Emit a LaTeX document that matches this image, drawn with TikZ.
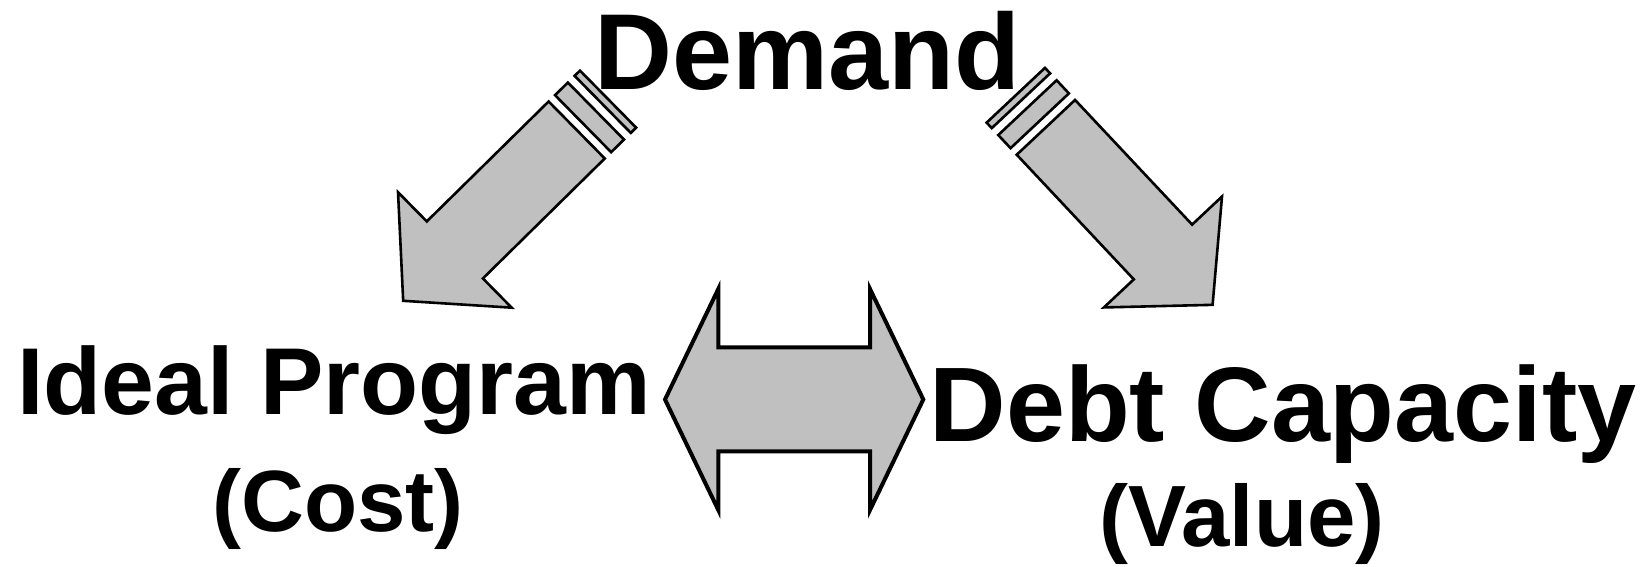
\documentclass[tikz,border=0pt]{standalone}
\usepackage{fontspec}
\setmainfont{Liberation Sans}
\usepackage{xcolor}
\definecolor{arrowgray}{RGB}{192,192,192}
\tikzset{
  blockarrow/.style={fill=arrowgray, draw=black, line width=2.6pt, line join=miter},
  bigtext/.style={font=\bfseries\fontsize{108}{110}\selectfont, inner sep=0pt, anchor=base},
  midtext/.style={font=\bfseries\fontsize{95}{100}\selectfont, inner sep=0pt, anchor=base},
  subtext/.style={font=\bfseries\fontsize{87}{90}\selectfont, inner sep=0pt, anchor=base}
}

\begin{document}
\begin{tikzpicture}[x=1pt, y=1pt]
      \useasboundingbox (0,0) rectangle (1646,567);

      \node[bigtext] (demand) at (807.5,477) {Demand};
      \node[midtext] (ideal) at (334,152) {Ideal Program};
      \node[subtext] (cost) at (338,35) {(Cost)};
      \node[bigtext, font=\bfseries\fontsize{106}{110}\selectfont] (debt) at (1283,125) {Debt Capacity};
      \node[subtext] (value) at (1242,20) {(Value)};

      % striped block arrows out of Demand
      \foreach \px/\py/\ang in {576.7/437/224.55, 1045.9/439.65/-46.8} {
        \begin{scope}[shift={(\px,\py)}, rotate=\ang]
          \draw[blockarrow] (-44,-40) rectangle (-36.5,40);
          \draw[blockarrow] (-27,-40) rectangle (-9,40);
          \draw[blockarrow] (0,-40) -- (171,-40) -- (171,-81) -- (243.5,0) -- (171,81) -- (171,40) -- (0,40) -- cycle;
        \end{scope}
      }

      \draw[blockarrow, line width=4pt] (665,167.5) -- (718.3,278) -- (718.3,219.5) -- (870,219.5) -- (870,278) -- (923.3,167.5)
        -- (870,57) -- (870,115.5) -- (718.3,115.5) -- (718.3,57) -- cycle;

    \end{tikzpicture}
\end{document}
